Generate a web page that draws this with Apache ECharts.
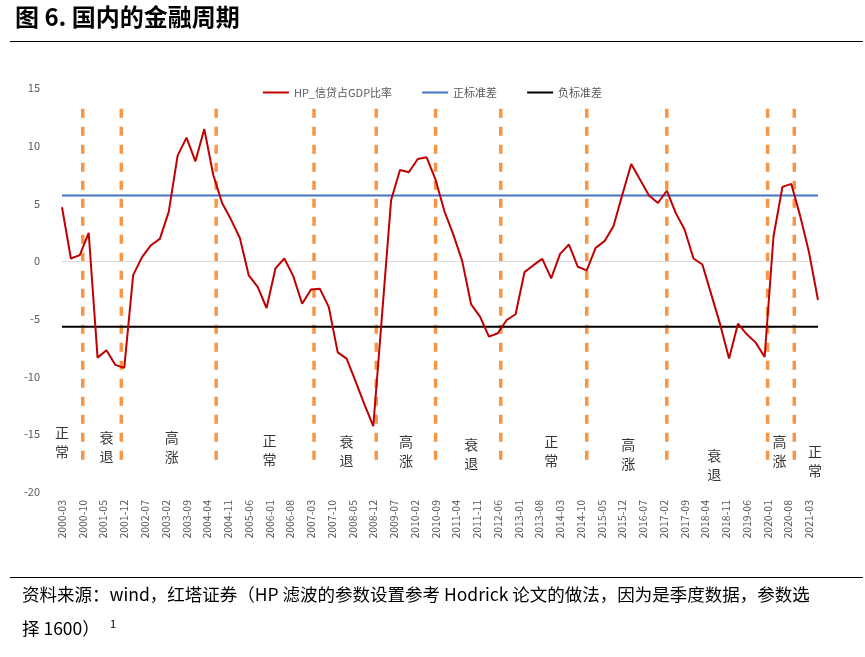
<!DOCTYPE html>
<html>
<head>
<meta charset="utf-8">
<script src="https://cdn.jsdelivr.net/npm/echarts@6/dist/echarts.min.js"></script>
<style>body{margin:0;background:#fff}#main{width:865px;height:657px}</style>
</head>
<body>
<div id="main"></div>
<script>
// 季度数据 2000-03 ~ 2021-06
var hpValues = [4.67,0.23,0.52,2.45,-8.36,-7.72,-8.99,-9.25,-1.21,0.35,1.38,1.93,4.27,9.14,10.7,8.65,
	11.44,7.49,5.04,3.6,2.0,-1.24,-2.22,-4.06,-0.63,0.23,-1.3,-3.69,-2.45,-2.4,-3.98,-7.9,
	-8.44,-10.4,-12.4,-14.3,-4.5,5.27,7.9,7.7,8.85,9.0,7.06,4.32,2.3,0,-3.75,-4.8,-6.54,-6.25,
	-5.1,-4.6,-0.95,-0.35,0.2,-1.5,0.63,1.44,-0.49,-0.8,1.15,
	1.73,3.03,5.76,8.41,7.06,5.68,5.04,6.1,4.18,2.74,0.23,-0.29,-2.88,-5.48,-8.44,-5.42,-6.34,-7.06,-8.3,
	2.16,6.43,6.69,3.9,0.72,-3.37];
var posStd = 5.68;
var negStd = -5.68;
// 周期分界线（月份）
var cycleLines = ['2000-10','2001-11','2004-07','2007-04','2009-01','2010-09','2012-07','2014-12','2017-03','2020-01','2020-10'];
// 阶段标注
var phaseCats = ['2000-03','2001-06','2003-04','2006-01','2008-03','2009-11','2011-09','2013-12','2016-02','2018-07','2020-05','2021-05'];
var phaseNames = ['正常','衰退','高涨','正常','衰退','高涨','衰退','正常','高涨','衰退','高涨','正常'];
var phaseY = [-15.7,-16.1,-16.1,-16.4,-16.5,-16.5,-16.7,-16.5,-16.7,-17.7,-16.5,-17.3];

var months = [];
for (var y = 2000; y <= 2021; y++) {
	for (var m = 1; m <= 12; m++) {
		if ((y == 2000 && m < 3) || (y == 2021 && m > 6)) continue;
		months.push(y + '-' + (m < 10 ? '0' + m : m));
	}
}
var hpData = months.map(function (c, i) {
	return i % 3 == 0 ? hpValues[i / 3] : null;
});
var posData = months.map(function () { return posStd; });
var negData = months.map(function () { return negStd; });

var series = [
	{name: 'HP_信贷占GDP比率', type: 'line', data: hpData, connectNulls: true, symbol: 'none',
	 lineStyle: {color: '#c00000', width: 2}, itemStyle: {color: '#c00000'}, z: 5,
	 markLine: {silent: true, symbol: 'none', label: {show: false},
		lineStyle: {color: '#d9d9d9', type: 'solid', width: 1}, data: [{yAxis: 0}]}},
	{name: '正标准差', type: 'line', data: posData, symbol: 'none',
	 lineStyle: {color: '#4472c4', width: 2}, itemStyle: {color: '#4472c4'}, z: 4},
	{name: '负标准差', type: 'line', data: negData, symbol: 'none',
	 lineStyle: {color: '#000', width: 2}, itemStyle: {color: '#000'}, z: 4}
];
cycleLines.forEach(function (c) {
	series.push({type: 'line', data: [[c, 13.2], [c, -17.6]], symbol: 'none', z: 3,
		lineStyle: {color: '#f79646', width: 3.5, type: [9, 9]}});
});
series.push({type: 'scatter', symbolSize: 0, z: 6,
	data: phaseCats.map(function (c, i) { return [c, phaseY[i]]; }),
	label: {show: true, position: 'inside', color: '#000', fontSize: 14, lineHeight: 19,
		fontFamily: 'Noto Sans CJK SC',
		formatter: function (p) { return phaseNames[p.dataIndex].split('').join('\n'); }}});

var chart = echarts.init(document.getElementById('main'));
chart.setOption({
	animation: false,
	textStyle: {fontFamily: 'Noto Sans CJK SC'},
	legend: {data: ['HP_信贷占GDP比率', '正标准差', '负标准差'], top: 82, left: 'center', itemGap: 30,
		itemWidth: 26, itemHeight: 2, icon: 'rect', textStyle: {color: '#595959', fontSize: 11}},
	grid: {left: 62, right: 47, top: 88, bottom: 165},
	xAxis: {type: 'category', data: months, boundaryGap: false,
		axisLine: {show: false}, axisTick: {show: false},
		axisLabel: {interval: 6, rotate: 90, color: '#595959', fontSize: 10.5, margin: 8}},
	yAxis: {type: 'value', min: -20, max: 15, interval: 5, splitLine: {show: false},
		axisLabel: {color: '#595959', fontSize: 11, margin: 22}},
	series: series,
	graphic: [
		{type: 'text', left: 15, top: 5, style: {text: '图 6. 国内的金融周期', font: 'bold 24px "Noto Sans CJK SC"', fill: '#000'}},
		{type: 'rect', shape: {x: 10, y: 41, width: 853, height: 1}, style: {fill: '#000'}},
		{type: 'rect', shape: {x: 10, y: 577, width: 853, height: 1}, style: {fill: '#000'}},
		{type: 'text', left: 22, top: 586, style: {text: '资料来源：wind，红塔证券（HP 滤波的参数设置参考 Hodrick 论文的做法，因为是季度数据，参数选', font: '17.5px "Noto Sans CJK SC"', fill: '#000'}},
		{type: 'text', left: 22, top: 620, style: {text: '择 1600）', font: '17.5px "Noto Sans CJK SC"', fill: '#000'}},
		{type: 'text', left: 110, top: 618, style: {text: '1', font: '11px "Noto Sans CJK SC"', fill: '#000'}}
	]
});
</script>
</body>
</html>
